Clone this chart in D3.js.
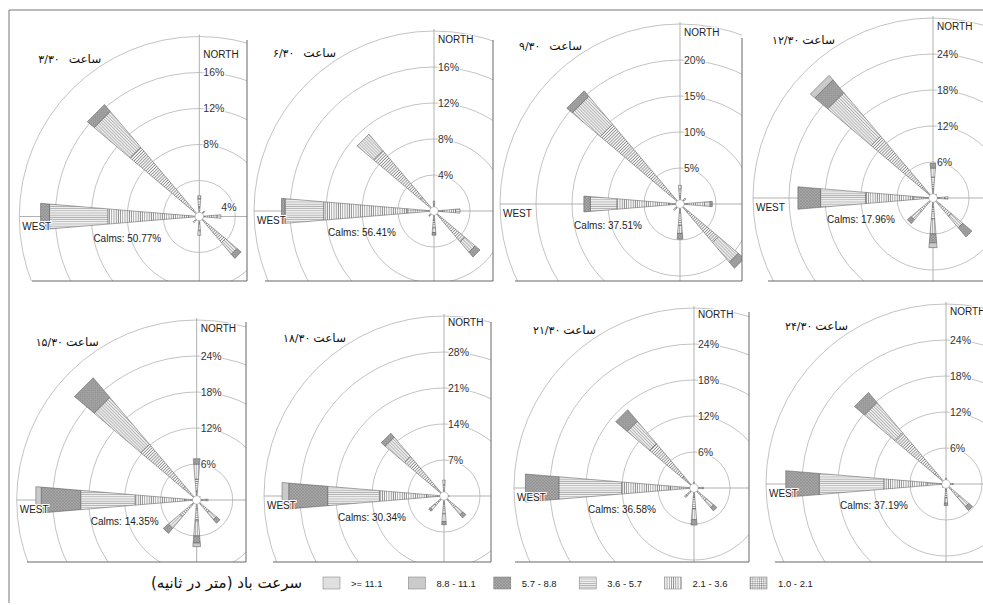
<!DOCTYPE html>
<html><head><meta charset="utf-8">
<script src="https://cdn.jsdelivr.net/npm/d3@7"></script>
<style>html,body{margin:0;padding:0;background:#fff;} svg{display:block;}</style>
</head><body>
<svg id="chart" width="983" height="605"></svg>
<script>
// ---------------- DATA ----------------
const directions = ["N","NNE","NE","ENE","E","ESE","SE","SSE","S","SSW","SW","WSW","W","WNW","NW","NNW"];
// bar segments from centre outwards
const speedClasses = ["1.0 - 2.1","2.1 - 3.6","3.6 - 5.7","5.7 - 8.8","8.8 - 11.1",">= 11.1"];
const legendOrder = [">= 11.1","8.8 - 11.1","5.7 - 8.8","3.6 - 5.7","2.1 - 3.6","1.0 - 2.1"];
const legendTitle = "سرعت باد (متر در ثانیه)";
const hourWord = "ساعت";
const hours = ["۳/۳۰","۶/۳۰","۹/۳۰","۱۲/۳۰","۱۵/۳۰","۱۸/۳۰","۲۱/۳۰","۲۴/۳۰"];
const calms = [50.77, 56.41, 37.51, 17.96, 14.35, 30.34, 36.58, 37.19];
const ringSteps = [4, 4, 5, 6, 6, 7, 6, 6];   // % per ring (tick labels)

// frequency (%) per direction, per speed class [1.0-2.1, 2.1-3.6, 3.6-5.7, 5.7-8.8, 8.8-11.1, >=11.1]
const rose0330 = [
  ["N",  1.0,1.0,0.3,0,0,0], ["NNE",0.4,0,0,0,0,0], ["NE",0.6,0.2,0,0,0,0],
  ["E",  0.6,1.4,0.4,0,0,0], ["SE", 0.5,3.3,1.7,0.6,0,0], ["S",0.8,0.8,0.5,0,0,0],
  ["SW", 0.6,0.3,0,0,0,0], ["WSW",0.3,0,0,0,0,0], ["W",1.2,9.0,6.5,1.0,0,0],
  ["NW", 1.0,9.1,5.2,1.0,0,0], ["NNW",0.4,0,0,0,0,0]
];
const rose0630 = [
  ["N",  0.8,0.3,0,0,0,0], ["NE",0.4,0,0,0,0,0], ["E",1.0,1.4,0.5,0,0,0],
  ["SE", 1.0,3.5,1.5,0.7,0,0], ["S",1.0,0.9,0.5,0.3,0,0], ["SSW",0.4,0,0,0,0,0],
  ["SW", 0.6,0.2,0,0,0,0], ["W",3.0,9.3,4.3,0.4,0,0], ["NW",2.0,6.8,2.4,0,0,0]
];
const rose0930 = [
  ["N",  1.0,1.1,0.5,0,0,0], ["NE",0.8,0.3,0,0,0,0], ["E",1.0,2.4,0.8,0.3,0,0],
  ["SE", 1.5,5.5,3.6,1.1,0,0], ["S",1.2,1.8,1.1,0.8,0,0], ["SW",0.8,0.4,0,0,0,0],
  ["W",  1.5,7.3,3.7,0.9,0,0], ["WNW",0.5,0,0,0,0,0], ["NW",2.0,12.5,5.1,1.0,0,0],
  ["NNW",0.5,0,0,0,0,0]
];
const rose1230 = [
  ["N",  1.5,2.0,1.5,0.8,0,0], ["NE",0.6,0.2,0,0,0,0], ["E",1.0,1.0,0.5,0,0,0],
  ["SE", 1.5,2.5,2.5,2.0,0,0], ["S",1.5,2.0,2.5,1.5,0.8,0], ["SW",1.0,2.0,1.8,0.8,0,0],
  ["W",  3.3,8.0,7.5,3.8,0,0], ["NW",2.5,11.0,9.5,2.8,1.0,0]
];
const rose1530 = [
  ["N",  1.5,2.0,2.5,0.9,0,0], ["NE",0.5,0.3,0,0,0,0], ["E",0.8,0.8,0.3,0,0,0],
  ["ESE",0.5,0,0,0,0,0], ["SE",1.0,1.8,1.5,0.8,0,0], ["S",1.5,2.0,2.5,1.2,0.6,0],
  ["SW", 1.2,2.5,2.5,1.1,0,0], ["WSW",0.5,0,0,0,0,0], ["W",1.9,8.4,9.1,6.6,0.9,0],
  ["NW", 3.0,9.2,10.2,4.3,0,0]
];
const rose1830 = [
  ["N",  1.0,1.2,0.9,0,0,0], ["NE",0.5,0,0,0,0,0], ["E",0.6,0.4,0,0,0,0],
  ["SE", 1.0,2.0,1.8,0.8,0,0], ["S",1.5,2.0,1.5,0.6,0,0], ["SW",1.0,1.5,1.0,0.4,0,0],
  ["W",  3.4,9.2,10.1,7.6,1.3,0], ["NW",2.5,7.6,4.9,1.0,0,0]
];
const rose2130 = [
  ["N",  0.6,0.4,0,0,0,0], ["NE",0.4,0,0,0,0,0], ["E",0.8,0.6,0.2,0,0,0],
  ["SE", 1.0,1.8,1.5,0.7,0,0], ["S",1.5,2.0,1.8,0.9,0,0], ["SW",1.0,0.8,0.3,0,0,0],
  ["W",  4.0,8.1,10.5,5.6,0,0], ["NW",2.5,7.2,4.9,2.5,0,0]
];
const rose2430 = [
  ["N",  0.6,0.4,0,0,0,0], ["NE",0.4,0,0,0,0,0], ["E",0.6,0.5,0.1,0,0,0],
  ["SE", 1.0,2.0,2.0,0.8,0,0], ["S",1.0,1.3,0.9,0.4,0,0], ["SW",0.5,0.3,0,0,0,0],
  ["W",  3.2,7.2,10.8,5.6,0,0], ["NW",2.5,8.7,6.6,2.2,0,0]
];
const roses = [rose0330, rose0630, rose0930, rose1230, rose1530, rose1830, rose2130, rose2430];

// ---------------- LAYOUT ----------------
const panels = [
  {cx:199.3, cy:216.5, x0:10,  x1:247, y0:10,  y1:281, bx0:32,  rTop:40,  northDy:-159, sideFirst:true},
  {cx:434,   cy:211,   x0:247, x1:493, y0:10,  y1:281, bx0:265, rTop:40,  northDy:-168},
  {cx:680,   cy:204,   x0:493, x1:742, y0:10,  y1:281, bx0:515, rTop:38,  northDy:-168},
  {cx:933,   cy:198,   x0:742, x1:983, y0:10,  y1:281, bx0:768, rTop:null,northDy:-168},
  {cx:196.7, cy:500,   x0:10,  x1:246, y0:290, y1:562, bx0:27,  rTop:322, northDy:-168},
  {cx:444,   cy:496,   x0:246, x1:491, y0:290, y1:562, bx0:273, rTop:322, northDy:-170},
  {cx:694,   cy:488,   x0:491, x1:749, y0:290, y1:562, bx0:515, rTop:312, northDy:-170},
  {cx:946,   cy:484,   x0:749, x1:983, y0:290, y1:562, bx0:775, rTop:null,northDy:-169}
];
const R = 180, nRings = 5, halfWidth = 4.75;
const latin = "'Liberation Sans', Arial, sans-serif";
const arabic = "'DejaVu Sans', sans-serif";

const svg = d3.select("#chart");
const defs = svg.append("defs");

// hatch patterns, rotated with each direction
function makePatterns(id, rot) {
  const mk = (k, size) => defs.append("pattern").attr("id", `pat-${k}-${id}`)
      .attr("patternUnits","userSpaceOnUse").attr("width",size).attr("height",size)
      .attr("patternTransform",`rotate(${rot})`);
  let p;
  p = mk(0, 2.2); p.append("rect").attr("width",2.2).attr("height",2.2).attr("fill","#fff");
  p.append("path").attr("d","M0,0.5H2.2M0.5,0V2.2").attr("stroke","#777").attr("stroke-width",0.5);
  p = mk(1, 2.2); p.append("rect").attr("width",2.2).attr("height",2.2).attr("fill","#fff");
  p.append("path").attr("d","M0.5,0V2.2").attr("stroke","#6a6a6a").attr("stroke-width",0.7);
  p = mk(2, 2.2); p.append("rect").attr("width",2.2).attr("height",2.2).attr("fill","#f2f2f2");
  p.append("path").attr("d","M0,0.5H2.2").attr("stroke","#8a8a8a").attr("stroke-width",0.6);
  p = mk(3, 3); p.append("rect").attr("width",3).attr("height",3).attr("fill","#a6a6a6");
  p.append("path").attr("d","M0,0L3,3M0,3L3,0").attr("stroke","#888").attr("stroke-width",0.5);
  p = mk(4, 2); p.append("rect").attr("width",2).attr("height",2).attr("fill","#cfcfcf");
  p.append("circle").attr("cx",1).attr("cy",1).attr("r",0.45).attr("fill","#aaa");
  p = mk(5, 2); p.append("rect").attr("width",2).attr("height",2).attr("fill","#e4e4e4");
  p.append("circle").attr("cx",1).attr("cy",1).attr("r",0.4).attr("fill","#c2c2c2");
}
directions.forEach((d, i) => makePatterns(d, i * 22.5 - 90));

// outer frame
svg.append("line").attr("x1",9).attr("x2",983).attr("y1",10).attr("y2",10).attr("stroke","#777").attr("stroke-width",1);
svg.append("line").attr("x1",9).attr("x2",9).attr("y1",10).attr("y2",603).attr("stroke","#777").attr("stroke-width",1);

const pt = (cx, cy, r, deg) => {
  const a = deg * Math.PI / 180;
  return [cx + r * Math.sin(a), cy - r * Math.cos(a)];
};
const closed = d3.line().curve(d3.curveLinearClosed);

panels.forEach((P, i) => {
  const step = ringSteps[i];
  const rScale = d3.scaleLinear().domain([0, step * nRings]).range([0, R]);
  const ticks = d3.range(1, nRings + 1).map(k => k * step);
  const dirAngle = d3.scalePoint().domain(directions).range([0, 337.5]);

  defs.append("clipPath").attr("id", "clip" + i).append("rect")
    .attr("x", P.x0).attr("y", P.y0).attr("width", P.x1 - P.x0).attr("height", P.y1 - P.y0);
  const g = svg.append("g").attr("clip-path", `url(#clip${i})`);

  // rings
  g.selectAll("circle.ring").data(ticks).join("circle").attr("class","ring")
    .attr("cx", P.cx).attr("cy", P.cy).attr("r", d => rScale(d))
    .attr("fill","none").attr("stroke","#b4b4b4").attr("stroke-width",0.8);
  // axes
  g.append("line").attr("x1", P.cx - R).attr("x2", P.x1).attr("y1", P.cy).attr("y2", P.cy)
    .attr("stroke","#a8a8a8").attr("stroke-width",0.9);
  g.append("line").attr("x1", P.cx).attr("x2", P.cx).attr("y1", P.cy - R - 2).attr("y2", P.y1)
    .attr("stroke","#a8a8a8").attr("stroke-width",0.9);

  // bars
  roses[i].forEach(row => {
    const dir = row[0], ang = dirAngle(dir);
    let cum = 0;
    row.slice(1).forEach((v, k) => {
      if (v <= 0) return;
      const r0 = rScale(cum), r1 = rScale(cum + v);
      cum += v;
      const pts = [pt(P.cx,P.cy,r0,ang-halfWidth), pt(P.cx,P.cy,r1,ang-halfWidth),
                   pt(P.cx,P.cy,r1,ang+halfWidth), pt(P.cx,P.cy,r0,ang+halfWidth)];
      g.append("path").attr("d", closed(pts))
        .attr("fill", `url(#pat-${k}-${dir})`)
        .attr("stroke","#555").attr("stroke-width",0.5).attr("stroke-linejoin","miter");
    });
  });
  // calm circle
  g.append("circle").attr("cx",P.cx).attr("cy",P.cy).attr("r",4.2)
    .attr("fill","#fff").attr("stroke","#999").attr("stroke-width",0.6);

  // ring labels
  ticks.slice(0, 4).forEach((t, k) => {
    let x = P.cx + 4, y = P.cy - rScale(t) + 3.8;
    if (k === 0 && P.sideFirst) { x = P.cx + 22; y = P.cy - 6; }
    g.append("text").attr("x", x).attr("y", y).text(t + "%")
      .attr("font-family", latin).attr("font-size", 10.5).attr("fill","#333")
      .attr("stroke","#fff").attr("stroke-width",2.5).attr("paint-order","stroke");
  });
  g.append("text").attr("x", P.cx + 4).attr("y", P.cy + P.northDy).text("NORTH")
    .attr("font-family", latin).attr("font-size", 10).attr("fill","#222")
    .attr("stroke","#fff").attr("stroke-width",2).attr("paint-order","stroke");
  g.append("text").attr("x", P.cx - 177).attr("y", P.cy + 13).text("WEST")
    .attr("font-family", latin).attr("font-size", 10).attr("fill","#222")
    .attr("stroke","#fff").attr("stroke-width",2).attr("paint-order","stroke");
  g.append("text").attr("x", P.cx - 72).attr("y", P.cy + 25).attr("text-anchor","middle")
    .text("Calms: " + calms[i].toFixed(2) + "%")
    .attr("font-family", latin).attr("font-size", 10).attr("fill","#222");

  // title
  g.append("text").attr("x", P.cx - 98).attr("y", P.cy - 154).attr("text-anchor","end")
    .text(hourWord).attr("font-family", arabic).attr("font-size", 12).attr("fill","#111");
  g.append("text").attr("x", P.cx - 161).attr("y", P.cy - 154).attr("text-anchor","start")
    .text(hours[i]).attr("font-family", arabic).attr("font-size", 11).attr("fill","#111");

  // panel borders
  if (P.rTop !== null)
    svg.append("line").attr("x1",P.x1).attr("x2",P.x1).attr("y1",P.rTop).attr("y2",P.y1)
      .attr("stroke","#666").attr("stroke-width",1);
  svg.append("line").attr("x1",P.bx0).attr("x2",P.x1).attr("y1",P.y1).attr("y2",P.y1)
    .attr("stroke","#666").attr("stroke-width",1);
});

// legend
const leg = svg.append("g");
leg.append("text").attr("x", 302).attr("y", 588).attr("direction","rtl").attr("text-anchor","start")
  .text(legendTitle).attr("font-family", arabic).attr("font-size", 15).attr("fill","#111");
const legX = d3.scalePoint().domain(legendOrder).range([323, 750]);
legendOrder.forEach(name => {
  const k = speedClasses.indexOf(name);
  const x = legX(name);
  leg.append("rect").attr("x", x).attr("y", 577).attr("width", 17).attr("height", 12)
    .attr("fill", `url(#pat-${k}-E)`).attr("stroke","#777").attr("stroke-width",0.5);
  leg.append("text").attr("x", x + 28).attr("y", 587).text(name)
    .attr("font-family", latin).attr("font-size", 9.5).attr("fill","#222");
});
</script>
</body></html>
